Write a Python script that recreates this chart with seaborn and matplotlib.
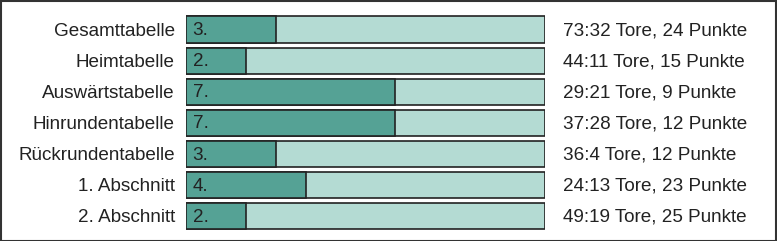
import matplotlib
matplotlib.use("Agg")
import matplotlib.pyplot as plt
import seaborn as sns
import pandas as pd
from matplotlib.patches import Rectangle

categories = ["Gesamttabelle", "Heimtabelle", "Auswärtstabelle", "Hinrundentabelle",
              "Rückrundentabelle", "1. Abschnitt", "2. Abschnitt"]
ranks = [3, 2, 7, 7, 3, 4, 2]
teams = 12
results = ["73:32 Tore, 24 Punkte", "44:11 Tore, 15 Punkte", "29:21 Tore, 9 Punkte",
           "37:28 Tore, 12 Punkte", "36:4 Tore, 12 Punkte", "24:13 Tore, 23 Punkte",
           "49:19 Tore, 25 Punkte"]

df = pd.DataFrame({"cat": categories, "rank": ranks, "total": [teams] * len(categories)})

sns.set_style("white")
plt.rcParams["font.family"] = ["Liberation Sans", "DejaVu Sans"]

W, H = 777, 241
fig = plt.figure(figsize=(W / 100, H / 100), dpi=100)
ax = fig.add_axes([186 / W, (H - 231.5) / H, (545 - 186) / W, 217.5 / H])

txt = "#222222"
fs = 13.6
sns.barplot(data=df, y="cat", x="total", orient="h", color="#b4dbd3", width=0.84,
            edgecolor=txt, linewidth=1.2, ax=ax, saturation=1)
sns.barplot(data=df, y="cat", x="rank", orient="h", color="#55a295", width=0.84,
            edgecolor=txt, linewidth=1.2, ax=ax, saturation=1)

ax.set_xlim(0, teams)
ax.set_ylim(len(categories) - 0.5, -0.5)
ax.set_xlabel("")
ax.set_ylabel("")
ax.set_xticks([])
ax.tick_params(axis="y", length=0, pad=8, labelsize=fs, labelcolor=txt)
for s in ax.spines.values():
    s.set_visible(False)

for i, (r, res) in enumerate(zip(ranks, results)):
    ax.text(0.22, i + 0.04, f"{r}.", va="center", ha="left", fontsize=fs, color=txt)
    ax.text(teams + 0.6, i + 0.04, res, va="center", ha="left", fontsize=fs, color=txt)

fig.patches.append(Rectangle((0.5 / W, 0.5 / H), 1 - 1.5 / W, 1 - 1.5 / H, transform=fig.transFigure,
                             fill=False, edgecolor="#333333", linewidth=1.5))
fig.savefig("out.png", dpi=100, facecolor="white")
